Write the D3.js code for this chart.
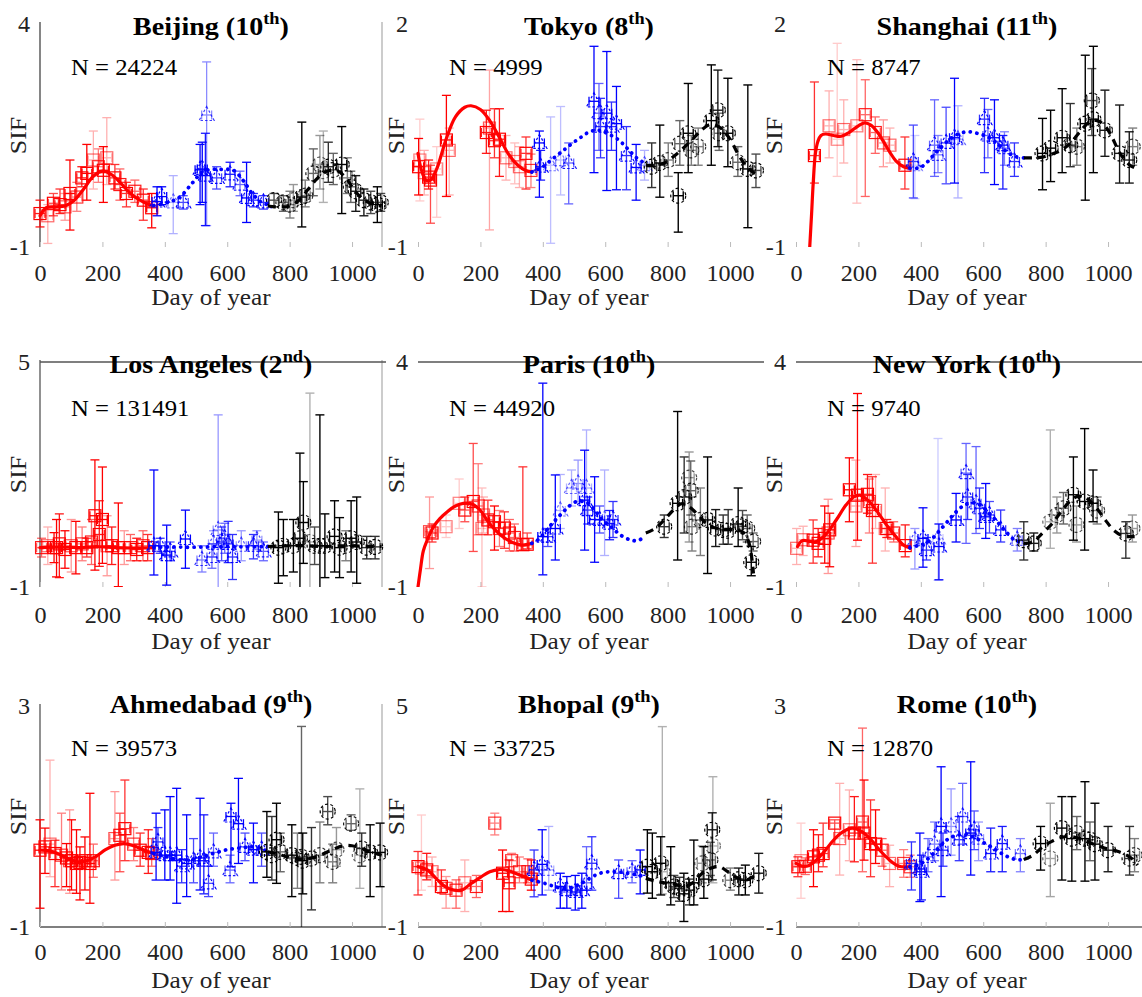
<!DOCTYPE html>
<html>
<head>
<meta charset="utf-8">
<script src="https://cdn.jsdelivr.net/npm/d3@7"></script>
<style>
  html, body { margin: 0; padding: 0; background: #fff; }
  svg { display: block; font-family: "Liberation Serif", "Times New Roman", serif; }
  svg text { font-family: "Liberation Serif", "Times New Roman", serif; }
</style>
</head>
<body>
<svg id="chart" width="1142" height="997"></svg>
<script>
// ---------- panel metadata ----------
const cityNames   = ["Beijing", "Tokyo", "Shanghai", "Los Angeles", "Paris", "New York", "Ahmedabad", "Bhopal", "Rome"];
const rankNumbers = ["10", "8", "11", "2", "10", "10", "9", "9", "10"];
const rankSuffixes = ["th", "th", "th", "nd", "th", "th", "th", "th", "th"];
const sampleSizes = [24224, 4999, 8747, 131491, 44920, 9740, 39573, 33725, 12870];
const sifUpper = [4, 2, 2, 5, 4, 4, 3, 5, 3];
const sifLower = -1;
const dayTicks = [0, 200, 400, 600, 800, 1000];
const dayRange = [0, 1096];
const binHalfWidth = 16; // half of the averaging window, in days

// ---------- binned SIF: [day, mean, lower, upper, share of observations] ----------
const beijingY1 = [[0,-0.25,-0.55,0.05,0.9],[25,-0.3,-0.92,-0.05,0.3],[43,-0.02,-0.3,0.2,0.7],[64,-0.05,-0.25,0.3,0.8],[80,-0.1,-0.4,0.2,0.4],[96,0.2,-0.62,0.95,1],[118,0.12,-0.2,0.45,0.5],[134,0.55,0.35,0.8,0.9],[150,0.65,0.05,1.3,1],[171,0.95,0.3,1.6,0.3],[187,0.8,0.45,1.2,0.5],[203,0.72,0.0,1.25,1],[214,1.0,0.4,1.9,0.3],[240,0.55,0.3,0.85,0.8],[256,0.4,0.05,0.75,0.6],[277,0.2,-0.1,0.45,0.8],[304,0.25,0.0,0.5,0.6],[331,0.05,-0.4,0.3,0.8],[358,-0.12,-0.57,0.2,1]];
const beijingY2 = [[375,0.02,-0.3,0.35,1],[390,0.13,-0.05,0.35,1],[427,0.0,-0.7,0.6,0.3],[459,0.0,-0.15,0.15,0.7],[513,0.73,-0.05,1.3,1],[520,0.75,0.0,1.35,1],[530,0.6,-0.52,1.55,0.9],[534,1.96,-0.52,3.15,0.45],[566,0.55,0.3,0.8,0.7],[609,0.63,0.35,0.9,0.9],[641,0.4,0.15,0.7,0.6],[662,0.1,-0.45,0.9,1],[684,0.05,-0.1,0.2,0.8],[716,0.0,-0.15,0.15,0.8]];
const beijingY3 = [[750,0.05,-0.1,0.2,0.7],[780,0.0,-0.2,0.15,0.6],[801,-0.05,-0.35,0.25,0.5],[812,0.05,-0.2,0.4,0.4],[839,0.12,-0.55,1.8,1],[850,0.15,-0.1,0.5,0.5],[876,0.65,0.15,1.2,0.6],[897,0.85,0.3,1.5,0.4],[908,0.7,0.0,1.6,0.3],[924,0.8,0.45,1.35,0.8],[940,0.73,0.4,1.1,0.6],[967,0.85,-0.25,1.7,1],[985,0.55,0.2,1.0,0.5],[996,0.35,0.0,0.7,0.6],[1012,0.25,-0.2,0.6,0.9],[1038,0.05,-0.3,0.3,0.9],[1060,0.0,-0.25,0.25,0.7],[1081,-0.05,-0.45,0.35,1],[1092,0.0,-0.2,0.2,0.7]];
const beijingFit1 = [[0,-0.3],[20,-0.12],[50,-0.1],[80,-0.08],[110,0.05],[140,0.3],[170,0.58],[200,0.7],[230,0.62],[260,0.42],[290,0.2],[320,0.05],[350,-0.05],[365,-0.07]];
const beijingFit2 = [[365,-0.07],[400,-0.02],[430,0.05],[450,0.13],[490,0.45],[520,0.68],[550,0.74],[580,0.74],[620,0.72],[650,0.5],[680,0.2],[710,0.0],[730,-0.05]];
const beijingFit3 = [[730,-0.08],[760,-0.1],[800,-0.08],[830,0.05],[860,0.3],[890,0.55],[920,0.7],[950,0.72],[980,0.55],[1010,0.25],[1040,0.05],[1070,-0.05],[1095,-0.08]];

const tokyoY1 = [[2,0.08,-0.3,0.46,1],[6,0.17,-0.38,0.72,0.2],[20,0.0,-0.3,0.3,0.3],[34,-0.06,-0.22,0.17,0.9],[40,-0.1,-0.68,0.1,0.7],[60,0.05,-0.6,0.35,0.2],[91,0.44,-0.32,1.04,1],[100,0.3,-0.3,0.6,0.3],[219,0.54,0.26,0.84,0.9],[229,0.6,-0.77,1.38,0.35],[245,0.43,0.2,0.86,0.8],[261,0.45,-0.05,0.86,0.9],[282,0.2,-0.1,0.5,0.3],[310,0.15,-0.15,0.4,0.25],[325,0.08,-0.2,0.35,0.3],[346,0.26,-0.22,0.48,0.8],[362,0.03,-0.2,0.25,0.5]];
const tokyoY2 = [[389,0.4,-0.33,0.56,1],[393,0.08,-0.1,0.3,0.9],[425,0.1,-0.95,0.75,0.25],[457,0.17,-0.3,0.89,0.25],[483,0.13,-0.42,0.4,0.6],[564,0.96,0.0,1.7,1],[580,0.8,0.3,1.2,0.6],[585,0.62,0.2,1.0,0.8],[605,0.8,-0.24,1.63,1],[620,0.62,0.3,0.95,0.8],[636,0.66,-0.23,1.16,1],[668,0.23,-0.23,0.62,0.8],[699,0.07,-0.37,0.38,1],[726,0.1,-0.1,0.3,0.3]];
const tokyoY3 = [[749,0.08,-0.2,0.4,0.8],[775,0.13,-0.33,0.64,1],[802,0.17,-0.05,0.4,0.5],[834,-0.31,-0.8,0.0,1],[839,0.39,0.1,0.7,0.6],[866,0.53,0.0,1.2,1],[876,0.3,0.1,0.5,0.5],[898,0.35,0.1,0.6,0.5],[940,0.7,0.1,1.45,1],[961,0.84,0.35,1.38,0.9],[965,0.53,0.3,0.8,0.6],[993,0.53,0.08,1.27,1],[1025,0.14,-0.05,0.35,0.6],[1057,0.05,-0.74,1.18,1],[1083,0.03,-0.2,0.25,0.7]];
const tokyoFit1 = [[0,0.26],[10,0.05],[25,-0.1],[40,-0.1],[60,0.05],[90,0.45],[120,0.75],[150,0.88],[170,0.9],[200,0.85],[230,0.7],[260,0.48],[290,0.25],[320,0.1],[345,0.03],[365,0.01]];
const tokyoFit2 = [[365,0.01],[400,0.08],[430,0.18],[460,0.28],[490,0.38],[520,0.47],[550,0.55],[580,0.57],[610,0.52],[640,0.45],[670,0.33],[700,0.2],[730,0.12]];
const tokyoFit3 = [[730,0.1],[760,0.1],[790,0.13],[820,0.22],[850,0.33],[880,0.45],[910,0.58],[940,0.65],[970,0.6],[1000,0.45],[1030,0.22],[1060,0.05],[1095,-0.05]];

const shanghaiY1 = [[59,0.23,-0.14,1.22,0.8],[106,0.63,0.2,1.1,0.3],[132,0.45,-0.05,1.74,0.2],[153,0.58,0.13,0.98,0.3],[195,0.63,-0.41,1.52,0.25],[222,0.78,-0.32,1.25,0.6],[254,0.54,0.26,0.75,0.6],[280,0.4,0.08,0.71,0.4],[301,0.37,0.13,0.6,0.3],[349,0.1,-0.22,0.48,0.8]];
const shanghaiY2 = [[376,0.15,-0.34,0.64,0.7],[381,0.1,-0.35,0.5,0.2],[444,0.37,-0.05,0.98,0.6],[455,0.24,0.0,0.5,0.5],[481,0.4,-0.15,0.88,0.7],[508,0.47,-0.14,1.27,1],[519,0.45,-0.34,0.9,0.3],[604,0.72,0.0,1.0,0.8],[615,0.5,0.2,0.85,0.6],[636,0.47,-0.16,0.98,1],[663,0.37,-0.22,0.5,0.9],[668,0.33,0.1,0.55,0.5],[700,0.15,-0.05,0.4,0.8]];
const shanghaiY3 = [[790,0.26,-0.23,0.73,1],[816,0.33,-0.12,0.84,1],[853,0.47,0.0,1.13,1],[879,0.37,0.08,0.93,0.8],[900,0.35,0.1,0.6,0.5],[927,0.66,-0.37,1.58,1],[948,0.97,0.5,1.4,0.7],[953,0.72,0.0,1.7,1],[990,0.57,0.22,1.11,0.9],[1037,0.26,-0.14,0.91,0.9],[1068,0.17,-0.14,0.55,0.9],[1079,0.35,0.1,0.6,0.5]];
const shanghaiFit1 = [[44,-1],[50,-0.55],[55,-0.15],[62,0.25],[70,0.42],[80,0.5],[95,0.52],[120,0.5],[145,0.49],[170,0.54],[200,0.63],[220,0.67],[240,0.64],[260,0.55],[280,0.42],[300,0.28],[320,0.16],[345,0.08],[365,0.06]];
const shanghaiFit2 = [[365,0.06],[390,0.06],[410,0.1],[435,0.21],[460,0.32],[490,0.44],[520,0.52],[550,0.55],[580,0.53],[610,0.49],[640,0.41],[670,0.3],[700,0.22],[730,0.2]];
const shanghaiFit3 = [[730,0.2],[760,0.2],[790,0.21],[820,0.25],[850,0.3],[880,0.4],[910,0.55],[940,0.68],[965,0.7],[990,0.63],[1010,0.5],[1040,0.25],[1070,0.1],[1095,0.05]];

const losAngelesY1 = [[5,0.05,-0.2,0.3,0.6],[25,0.1,-0.4,0.6,0.3],[45,0.05,-0.35,0.45,1],[53,0.05,-0.73,0.8,1],[62,0.15,-0.75,0.95,0.9],[80,0.0,-0.5,0.5,1],[100,0.1,-0.6,0.8,0.4],[115,0.05,-0.65,0.75,1],[135,0.15,-0.3,0.6,0.5],[150,0.05,-0.2,0.3,0.8],[165,0.2,-0.4,0.8,0.6],[176,0.9,-0.55,2.39,1],[190,0.4,-0.45,1.3,0.9],[200,0.8,-0.37,2.2,1],[215,0.1,-0.7,0.9,0.4],[230,0.1,-0.4,0.6,0.9],[251,0.05,-0.99,1.24,1],[270,0.05,-0.4,0.5,0.4],[290,0.05,-0.3,0.4,0.6],[310,0.0,-0.3,0.3,0.9],[330,0.1,-0.3,0.5,0.6],[345,0.05,-0.3,0.4,0.8]];
const losAngelesY2 = [[365,0.1,-0.68,2.12,1],[385,0.1,-0.1,0.3,0.8],[406,-0.15,-0.95,0.65,1],[417,-0.05,-0.3,0.2,0.7],[466,0.28,-0.5,1.05,1],[519,-0.28,-0.6,0.1,0.5],[551,-0.2,-0.5,0.15,0.6],[556,0.15,-0.2,0.5,0.4],[571,0.52,-1.2,3.59,0.4],[582,0.2,-0.3,0.6,0.7],[592,0.3,-0.1,0.7,0.6],[603,0.15,-0.35,0.75,0.8],[617,-0.2,-0.8,0.4,0.8],[645,0.1,-0.3,0.5,0.4],[684,0.1,-0.25,0.4,0.8],[695,0.25,0.0,0.5,0.4],[716,-0.05,-0.3,0.2,0.6]];
const losAngelesY3 = [[764,0.05,-0.9,1.0,1],[780,0.1,-0.7,0.8,1],[812,0.1,-0.6,0.8,1],[833,0.3,-1.2,2.57,1],[844,0.72,-0.37,1.81,1],[865,0.2,-1.2,4.17,0.3],[880,0.1,-0.4,0.6,0.7],[897,0.1,-1.2,3.59,1],[913,0.1,-0.75,0.95,1],[944,0.35,-0.6,1.3,1],[960,0.05,-0.75,0.85,1],[980,0.1,-0.3,0.5,0.5],[997,0.3,-0.6,1.3,1],[1015,0.2,-0.9,1.4,1],[1047,0.05,-0.25,0.35,0.8],[1074,0.07,-0.25,0.35,0.8]];
const losAngelesFit1 = [[0,0.05],[60,0.07],[120,0.05],[180,0.08],[240,0.05],[300,0.04],[365,0.05]];
const losAngelesFit2 = [[365,0.05],[420,0.07],[480,0.06],[540,0.07],[600,0.08],[660,0.07],[730,0.08]];
const losAngelesFit3 = [[730,0.08],[790,0.1],[850,0.1],[910,0.08],[970,0.1],[1030,0.09],[1095,0.08]];

const parisY1 = [[37,0.23,-0.59,1.0,0.4],[45,0.2,0.0,0.4,0.8],[90,0.34,0.1,0.6,0.2],[132,0.86,0.3,1.4,0.2],[150,0.71,0.45,1.0,0.7],[177,0.9,-0.21,2.19,0.7],[193,0.8,0.16,1.74,0.5],[205,0.3,-1.0,1.2,0.25],[210,0.6,0.2,1.0,0.3],[224,0.49,0.16,0.93,0.8],[245,0.45,-0.18,0.8,1],[261,0.3,-0.1,0.7,0.5],[277,0.31,-0.14,0.67,0.8],[293,0.2,-0.2,0.5,0.6],[309,0.1,-0.2,0.4,0.6],[336,-0.06,-0.18,1.67,0.8],[350,-0.05,-0.15,0.2,0.7]];
const parisY2 = [[400,0.12,-0.73,3.53,1],[416,0.12,-0.1,0.3,0.7],[440,0.3,-0.4,1.49,1],[456,0.7,0.3,1.5,0.3],[492,1.2,0.8,1.6,0.3],[513,1.3,0.9,1.82,0.4],[534,0.93,-0.18,2.04,1],[540,1.2,0.6,2.49,0.3],[544,0.71,0.4,1.0,0.8],[566,0.5,-0.45,1.45,1],[582,0.49,0.2,0.8,0.7],[598,0.5,-0.3,1.6,0.3],[614,0.41,0.05,0.7,0.9],[625,0.5,0.1,0.9,0.8]];
const parisY3 = [[789,0.34,0.1,0.6,0.8],[832,0.86,-0.4,2.9,1],[853,1.0,0.2,1.89,0.8],[869,1.43,0.0,2.0,0.4],[874,1.14,0.6,1.8,0.6],[878,0.34,-0.2,1.0,0.5],[905,0.49,-0.3,1.2,0.5],[928,0.49,-0.7,1.89,1],[954,0.3,-0.1,0.72,0.9],[978,0.27,-0.05,0.6,0.8],[994,0.25,-0.05,0.72,0.8],[1026,0.4,-0.1,1.2,1],[1040,0.35,0.05,0.7,0.7],[1055,0.3,0.0,0.6,0.6],[1068,-0.45,-0.75,-0.1,1],[1074,0.01,-0.2,0.2,0.6]];
const parisFit1 = [[0,-1],[8,-0.6],[17,-0.2],[30,0.05],[50,0.34],[70,0.52],[95,0.68],[120,0.8],[145,0.86],[175,0.84],[200,0.7],[225,0.45],[250,0.25],[275,0.1],[300,0.0],[330,-0.07],[365,-0.03]];
const parisFit2 = [[365,-0.03],[385,0.05],[410,0.25],[435,0.45],[460,0.63],[485,0.8],[510,0.9],[540,0.88],[565,0.72],[590,0.5],[620,0.33],[650,0.15],[680,0.05],[705,0.03],[730,0.15]];
const parisFit3 = [[730,0.2],[760,0.3],[790,0.5],[820,0.72],[845,0.85],[870,0.78],[900,0.58],[930,0.38],[960,0.3],[990,0.28],[1020,0.27],[1045,0.2],[1062,-0.05],[1075,-0.7]];

const newYorkY1 = [[2,-0.14,-0.5,0.3,0.3],[23,0.05,-0.3,0.35,0.3],[55,0.04,-0.47,0.49,0.8],[71,-0.03,-0.33,0.3,0.9],[92,0.08,-0.47,0.8,1],[103,0.2,-0.7,0.95,0.4],[108,0.27,-0.55,0.64,1],[171,1.16,0.45,1.87,1],[192,0.8,-0.1,1.82,0.35],[197,1.04,0.04,3.3,1],[229,1.06,0.64,1.5,0.9],[235,0.9,0.2,1.4,0.5],[245,0.7,-0.47,1.45,0.8],[255,0.7,0.3,1.5,0.3],[286,0.3,-0.2,1.2,0.3],[291,0.3,0.1,0.5,0.9],[313,0.2,0.0,0.45,0.6],[350,-0.08,-0.33,0.38,0.9]];
const newYorkY2 = [[381,0.04,-0.6,0.3,0.4],[407,0.08,-0.56,0.76,1],[418,-0.18,-0.4,0.1,0.8],[455,0.08,-0.85,2.3,0.2],[458,-0.1,-0.84,0.4,1],[513,0.49,0.0,1.08,1],[545,1.53,-0.03,2.19,0.6],[550,1.0,0.5,1.5,0.8],[577,0.86,0.19,2.12,0.6],[588,0.75,0.3,1.2,0.8],[608,0.56,0.08,1.3,1],[620,0.6,0.2,0.9,0.7],[656,0.27,0.0,0.71,0.8],[709,0.05,-0.2,0.3,0.5]];
const newYorkY3 = [[730,0.04,-0.4,0.45,0.8],[762,-0.03,-0.2,0.2,0.9],[815,0.45,-0.14,2.49,0.3],[836,0.6,0.2,1.0,0.4],[857,0.75,0.4,1.1,0.6],[889,1.05,0.04,1.89,1],[899,0.38,0.0,0.8,0.4],[925,0.9,-0.18,2.52,1],[952,0.86,0.45,1.6,1],[965,0.7,0.4,1.0,0.5],[1057,0.19,-0.36,0.45,0.8],[1078,0.3,0.0,0.6,0.4]];
const newYorkFit1 = [[5,-0.1],[20,0.03],[40,0.02],[60,0.0],[80,0.07],[100,0.2],[130,0.5],[160,0.82],[185,1.0],[205,1.04],[230,0.93],[260,0.68],[290,0.38],[320,0.12],[345,-0.07],[365,-0.13]];
const newYorkFit2 = [[365,-0.13],[390,-0.08],[415,-0.03],[440,0.1],[460,0.25],[485,0.45],[510,0.65],[540,0.82],[570,0.87],[595,0.8],[620,0.63],[645,0.45],[670,0.25],[700,0.05],[730,-0.03]];
const newYorkFit3 = [[730,-0.03],[760,0.0],[790,0.2],[820,0.4],[850,0.68],[880,0.92],[905,1.02],[930,0.98],[960,0.78],[990,0.5],[1020,0.25],[1050,0.13],[1080,0.12],[1095,0.12]];

const ahmedabadY1 = [[0,0.39,-0.66,0.94,1],[16,0.45,-0.03,0.79,1],[32,0.5,-0.09,2.02,0.3],[48,0.33,-0.27,0.57,0.8],[69,0.3,-0.33,1.06,0.5],[85,0.25,-0.27,0.51,1],[95,0.2,-0.39,1.12,0.4],[101,0.2,-0.33,0.94,1],[117,0.15,-0.39,0.76,1],[128,0.17,-0.51,0.45,1],[144,0.2,-0.33,0.63,1],[160,0.15,-0.57,1.42,1],[171,0.2,-0.1,0.5,0.6],[240,0.6,-0.15,1.45,0.4],[256,0.66,0.0,1.06,0.7],[272,0.78,0.2,1.66,0.8],[300,0.5,0.2,0.8,0.5],[321,0.39,0.1,0.7,0.8],[347,0.35,-0.03,0.76,0.9],[358,0.33,0.1,0.6,0.6]];
const ahmedabadY2 = [[372,0.35,-0.15,1.06,1],[378,0.54,0.3,0.8,0.8],[400,0.3,-0.15,1.12,1],[417,0.3,-0.15,1.36,1],[438,0.3,-0.57,1.51,1],[454,0.1,-0.2,0.4,0.8],[470,0.15,-0.45,1.03,1],[492,0.2,-0.2,0.6,0.7],[513,0.25,-0.33,1.33,1],[525,0.2,-0.4,1.03,0.9],[540,-0.21,-0.45,0.1,0.7],[556,0.35,0.1,0.7,0.6],[609,0.03,-0.2,0.3,0.6],[612,1.0,0.09,1.24,1],[636,0.87,0.15,1.69,1],[657,0.45,0.2,0.7,0.7],[684,0.4,-0.2,0.88,1],[710,0.4,0.1,0.7,0.7]];
const ahmedabadY3 = [[727,0.36,-0.1,1.09,1],[743,0.3,-0.15,1.0,0.8],[758,0.58,-0.21,1.24,1],[770,0.36,0.0,0.7,0.6],[807,0.3,-0.45,0.85,1],[825,0.25,-0.3,0.7,0.5],[838,0.27,-1.2,2.63,0.6],[842,0.2,-0.4,0.7,1],[870,0.24,-0.69,0.8,0.8],[897,0.3,-0.2,0.9,0.5],[922,1.09,0.85,1.36,0.7],[938,0.18,-0.2,0.5,0.5],[950,0.4,0.1,0.8,0.4],[997,0.87,0.75,1.03,0.6],[1025,0.3,-0.3,1.5,0.3],[1031,0.42,0.1,0.7,0.8],[1058,0.35,-0.45,0.85,1],[1090,0.35,-0.27,0.88,1]];
const ahmedabadFit1 = [[0,0.39],[30,0.38],[60,0.32],[90,0.24],[120,0.18],[150,0.2],[180,0.28],[210,0.4],[240,0.48],[270,0.51],[300,0.47],[330,0.4],[365,0.33]];
const ahmedabadFit2 = [[365,0.33],[400,0.28],[440,0.22],[480,0.22],[520,0.27],[560,0.34],[600,0.4],[640,0.43],[680,0.45],[710,0.42],[730,0.36]];
const ahmedabadFit3 = [[730,0.36],[760,0.33],[790,0.27],[830,0.23],[860,0.24],[890,0.28],[930,0.38],[970,0.47],[1000,0.47],[1040,0.4],[1070,0.34],[1095,0.3]];

const bhopalY1 = [[0,0.64,-0.13,1.05,0.8],[11,0.6,0.0,2.04,0.2],[28,0.55,0.28,1.0,0.9],[45,0.5,0.1,0.9,0.3],[75,0.1,-0.08,0.55,0.8],[90,0.05,-0.49,0.37,0.4],[122,0.0,-0.49,0.28,0.6],[150,0.2,-0.58,0.82,0.3],[187,0.1,-0.2,0.4,0.6],[246,1.82,1.5,2.09,0.5],[271,0.46,-0.58,1.09,1],[292,0.2,-0.58,0.82,1],[300,0.8,0.46,1.0,0.5],[325,0.5,0.2,0.9,0.5],[352,0.5,0.2,0.85,0.6],[363,0.3,0.0,0.82,1]];
const bhopalY2 = [[372,0.55,-0.18,1.09,0.8],[398,0.7,-0.13,1.64,1],[419,0.55,0.0,1.73,0.3],[456,0.1,-0.49,0.46,1],[477,0.0,-0.49,0.37,1],[504,-0.05,-0.54,0.4,1],[525,0.0,-0.49,0.46,1],[540,0.2,0.0,1.18,0.6],[557,0.73,0.0,1.45,0.8],[643,0.46,-0.22,0.82,0.7],[686,0.5,0.2,0.8,0.6],[712,0.55,-0.1,1.09,1]];
const bhopalY3 = [[735,0.64,-0.08,1.64,1],[751,0.5,-0.22,1.55,1],[778,0.73,-0.13,1.45,1],[783,0.5,-0.1,4.44,0.3],[810,0.2,-0.4,1.18,1],[820,0.1,-0.2,0.4,0.7],[838,0.05,-0.3,0.35,0.8],[852,-0.1,-0.85,0.46,1],[870,0.0,-0.4,0.3,0.8],[884,0.2,-0.4,1.36,1],[911,0.73,0.2,1.2,0.4],[916,0.3,-0.22,1.18,1],[937,0.82,0.4,1.3,0.6],[943,1.64,0.28,2.1,0.9],[945,1.2,0.2,3.08,0.3],[1001,0.27,0.0,0.6,0.5],[1028,0.3,-0.13,0.6,0.9],[1049,0.27,-0.13,0.68,1],[1092,0.46,-0.08,1.0,0.9]];
const bhopalFit1 = [[0,0.64],[30,0.55],[60,0.3],[90,0.08],[115,0.0],[140,0.0],[170,0.18],[200,0.35],[230,0.5],[260,0.56],[290,0.53],[320,0.43],[345,0.35],[365,0.27]];
const bhopalFit2 = [[365,0.27],[400,0.2],[430,0.12],[460,0.05],[490,0.07],[520,0.17],[550,0.32],[580,0.45],[610,0.5],[640,0.5],[670,0.46],[700,0.42],[730,0.37]];
const bhopalFit3 = [[730,0.32],[760,0.25],[790,0.2],[820,0.17],[850,0.1],[880,0.2],[910,0.45],[940,0.6],[965,0.64],[990,0.52],[1020,0.35],[1050,0.27],[1080,0.4],[1095,0.46]];

const romeY1 = [[6,0.09,-0.09,0.27,0.8],[16,0.2,-0.48,0.88,0.2],[30,0.1,-0.05,0.25,0.6],[56,0.27,-0.27,0.76,1],[72,0.3,0.0,0.67,0.9],[87,0.33,0.09,0.88,0.8],[124,0.88,0.5,0.94,0.7],[140,0.6,-0.06,1.6,0.3],[171,0.76,0.2,1.48,0.3],[187,0.7,0.18,1.36,0.9],[213,0.9,0.0,2.6,0.6],[218,0.7,0.21,1.66,1],[239,0.51,-0.09,1.3,0.8],[255,0.5,0.15,1.12,1],[276,0.39,0.1,0.6,0.6],[300,0.15,-0.27,0.48,0.3],[345,0.15,-0.1,0.4,0.5],[366,0.09,-0.1,0.3,0.5]];
const romeY2 = [[370,0.15,-0.33,0.54,0.8],[397,0.05,-0.54,0.7,1],[402,0.0,-0.51,0.3,0.9],[423,0.27,0.0,0.6,0.6],[444,0.5,0.2,0.9,0.5],[465,0.82,-0.45,1.9,1],[471,0.39,0.1,0.7,0.8],[497,0.82,0.3,1.5,0.4],[523,0.58,0.2,1.0,0.8],[534,1.0,0.5,1.6,0.6],[560,0.7,-0.06,1.99,1],[571,0.76,0.4,1.1,0.7],[585,0.6,0.2,0.9,0.4],[624,0.33,0.0,0.79,0.9],[661,0.51,0.0,0.82,0.9],[719,0.33,0.0,0.6,0.5]];
const romeY3 = [[784,0.51,0.03,0.82,1],[815,0.24,-0.45,1.24,0.35],[852,0.79,-0.15,1.36,1],[884,0.6,-0.17,1.36,1],[900,0.7,0.4,1.0,0.6],[926,0.6,-0.17,1.63,1],[942,0.58,0.2,0.9,0.6],[958,0.5,-0.15,1.24,1],[1000,0.39,0.0,0.82,0.9],[1069,0.24,-0.06,0.82,0.8],[1085,0.3,0.0,0.6,0.5]];
const romeFit1 = [[0,0.15],[20,0.1],[40,0.11],[65,0.21],[90,0.36],[120,0.57],[150,0.72],[180,0.79],[210,0.73],[240,0.58],[270,0.38],[300,0.21],[330,0.1],[365,0.09]];
const romeFit2 = [[365,0.09],[390,0.12],[415,0.2],[440,0.33],[465,0.48],[495,0.62],[525,0.67],[555,0.66],[585,0.58],[615,0.48],[645,0.38],[675,0.28],[705,0.22],[730,0.22]];
const romeFit3 = [[730,0.22],[760,0.3],[790,0.45],[820,0.55],[850,0.62],[880,0.64],[910,0.6],[940,0.53],[970,0.46],[1000,0.41],[1030,0.37],[1060,0.3],[1080,0.22],[1095,0.12]];

const cityPoints = [
  [beijingY1, beijingY2, beijingY3], [tokyoY1, tokyoY2, tokyoY3], [shanghaiY1, shanghaiY2, shanghaiY3],
  [losAngelesY1, losAngelesY2, losAngelesY3], [parisY1, parisY2, parisY3], [newYorkY1, newYorkY2, newYorkY3],
  [ahmedabadY1, ahmedabadY2, ahmedabadY3], [bhopalY1, bhopalY2, bhopalY3], [romeY1, romeY2, romeY3]
];
const cityFits = [
  [beijingFit1, beijingFit2, beijingFit3], [tokyoFit1, tokyoFit2, tokyoFit3], [shanghaiFit1, shanghaiFit2, shanghaiFit3],
  [losAngelesFit1, losAngelesFit2, losAngelesFit3], [parisFit1, parisFit2, parisFit3], [newYorkFit1, newYorkFit2, newYorkFit3],
  [ahmedabadFit1, ahmedabadFit2, ahmedabadFit3], [bhopalFit1, bhopalFit2, bhopalFit3], [romeFit1, romeFit2, romeFit3]
];

// ---------- layout ----------
const serif = "'Liberation Serif', 'Times New Roman', serif";
const colX = [40, 418, 796];
const panelWidth = 342;
const rowTop = [24, 362, 706];
const rowBottom = [247, 587, 927];
const titleBase = [35, 373, 713];
const countBase = [75, 416, 756];
const tickBase = [281, 623, 960];
const xLabelBase = [305, 649, 988];

// axis lines that are visible around each panel
const frames = [
  { left: "#444", right: "#aaa" }, {}, {},
  { top: "#555", left: "#555", right: "#aaa" }, { top: "#555" }, { top: "#555" },
  { left: "#555", bottom: "#555", right: "#aaa" }, { bottom: "#666" }, { bottom: "#666" }
];

const yearStyles = [
  { color: "#ff0000", marker: "square",   markerDash: null,    fitDash: null,      fitCap: "round", fitWidth: 3.2 },
  { color: "#0000ff", marker: "triangle", markerDash: "2.5,2", fitDash: "0.1,6.6", fitCap: "round", fitWidth: 3.8 },
  { color: "#000000", marker: "circle",   markerDash: "3,2.4", fitDash: "8,6",     fitCap: "butt",  fitWidth: 3.2 }
];

const svg = d3.select("#chart");
const defs = svg.append("defs");

function drawMarker(g, kind, cx, cy, color, dash, opacity) {
  let m;
  if (kind === "square") {
    m = g.append("rect").attr("x", cx - 6).attr("y", cy - 6).attr("width", 12).attr("height", 12);
  } else if (kind === "triangle") {
    m = g.append("path").attr("d", `M${cx},${cy - 8.5}L${cx + 7.5},${cy + 5.5}L${cx - 7.5},${cy + 5.5}Z`);
  } else {
    m = g.append("circle").attr("cx", cx).attr("cy", cy).attr("r", 7.5);
  }
  m.attr("fill", "none").attr("stroke", color).attr("stroke-width", 1.2).attr("opacity", opacity);
  if (dash) m.attr("stroke-dasharray", dash);
}

cityNames.forEach((name, i) => {
  const r = Math.floor(i / 3), c = i % 3;
  const x0 = colX[c], top = rowTop[r], bottom = rowBottom[r];
  const x = d3.scaleLinear().domain(dayRange).range([x0, x0 + panelWidth]);
  const y = d3.scaleLinear().domain([sifLower, sifUpper[i]]).range([bottom, top]);
  const panel = svg.append("g").attr("class", "panel");

  // frame lines
  const f = frames[i];
  if (f.left) panel.append("line").attr("x1", x0).attr("x2", x0).attr("y1", top - 2).attr("y2", bottom).attr("stroke", f.left).attr("stroke-width", 1.3);
  if (f.right) panel.append("line").attr("x1", x0 + panelWidth).attr("x2", x0 + panelWidth).attr("y1", top - 2).attr("y2", bottom).attr("stroke", f.right).attr("stroke-width", 1.2);
  if (f.top) panel.append("line").attr("x1", x0).attr("x2", Math.min(x0 + panelWidth + 4, 1142)).attr("y1", top).attr("y2", top).attr("stroke", f.top).attr("stroke-width", 1.3);
  if (f.bottom) panel.append("line").attr("x1", x0).attr("x2", Math.min(x0 + panelWidth + 4, 1142)).attr("y1", bottom).attr("y2", bottom).attr("stroke", f.bottom).attr("stroke-width", 1.3);

  // faint tick marks along the bottom
  const tickMarks = panel.append("g").attr("transform", `translate(0,${bottom})`)
    .call(d3.axisBottom(x).tickValues(dayTicks).tickSizeInner(-5).tickSizeOuter(0).tickFormat(""));
  tickMarks.select(".domain").remove();
  tickMarks.selectAll("line").attr("stroke", "#bbb").attr("stroke-width", 1);

  // x tick labels
  const xAxis = panel.append("g").attr("transform", `translate(0,${tickBase[r]})`)
    .attr("font-family", serif)
    .call(d3.axisBottom(x).tickValues(dayTicks).tickSize(0).tickPadding(0).tickFormat(d => String(d)));
  xAxis.select(".domain").remove();
  xAxis.selectAll("text").attr("y", 0).attr("dy", 0)
    .style("font-family", serif).attr("font-size", 23).attr("fill", "#222")
    .attr("transform", "scale(1.05,1)");

  // y tick labels (limits only)
  const yAxis = panel.append("g").attr("transform", `translate(${x0 - 10},0)`)
    .attr("font-family", serif)
    .call(d3.axisLeft(y).tickValues([sifLower, sifUpper[i]]).tickSize(0).tickPadding(0).tickFormat(d => String(d)));
  yAxis.select(".domain").remove();
  yAxis.selectAll("text").attr("x", 0).attr("dy", "0.33em")
    .style("font-family", serif).attr("font-size", 23).attr("fill", "#222")
    .attr("text-anchor", "end").attr("transform", "scale(1.05,1)");

  // data area clipped vertically to the axis limits
  const clipId = `clip-${i}`;
  defs.append("clipPath").attr("id", clipId).append("rect")
    .attr("x", x0 - 10).attr("y", top).attr("width", panelWidth + 20).attr("height", bottom - top);
  const plot = panel.append("g").attr("clip-path", `url(#${clipId})`);

  const fitLine = d3.line().x(d => x(d[0])).y(d => y(d[1])).curve(d3.curveCatmullRom.alpha(0.5));

  cityPoints[i].forEach((points, k) => {
    const st = yearStyles[k];
    const g = plot.append("g");
    points.forEach(([day, mean, lower, upper, share]) => {
      const cx = x(day), cy = y(mean);
      const yl = y(lower), yu = y(upper);
      const xl = x(day - binHalfWidth), xr = x(day + binHalfWidth);
      const bar = g.append("g").attr("stroke", st.color).attr("stroke-width", k === 2 ? 1.4 : 1.3).attr("opacity", share);
      // vertical spread with caps
      bar.append("line").attr("x1", cx).attr("x2", cx).attr("y1", yl).attr("y2", yu);
      bar.append("line").attr("x1", cx - 4.5).attr("x2", cx + 4.5).attr("y1", yl).attr("y2", yl);
      bar.append("line").attr("x1", cx - 4.5).attr("x2", cx + 4.5).attr("y1", yu).attr("y2", yu);
      // averaging window with caps
      bar.append("line").attr("x1", xl).attr("x2", xr).attr("y1", cy).attr("y2", cy);
      bar.append("line").attr("x1", xl).attr("x2", xl).attr("y1", cy - 4.5).attr("y2", cy + 4.5);
      bar.append("line").attr("x1", xr).attr("x2", xr).attr("y1", cy - 4.5).attr("y2", cy + 4.5);
      // markers stay a little more visible than their spread bars
      drawMarker(g, st.marker, cx, cy, st.color, st.markerDash, Math.min(1, share + 0.3));
    });
    const path = plot.append("path").datum(cityFits[i][k]).attr("d", fitLine)
      .attr("fill", "none").attr("stroke", st.color).attr("stroke-width", st.fitWidth)
      .attr("stroke-linecap", st.fitCap).attr("stroke-linejoin", "round");
    if (st.fitDash) path.attr("stroke-dasharray", st.fitDash);
  });

  // title with superscript rank
  const title = panel.append("text")
    .attr("transform", `translate(${x0 + 171},${titleBase[r]}) scale(1.08,1)`)
    .attr("text-anchor", "middle").style("font-family", serif)
    .attr("font-weight", "bold").attr("font-size", 26).attr("fill", "#000");
  title.append("tspan").text(`${name} (${rankNumbers[i]}`);
  title.append("tspan").attr("font-size", 17).attr("dy", -11).text(rankSuffixes[i]);
  title.append("tspan").attr("dy", 11).text(")");

  // sample count
  panel.append("text")
    .attr("transform", `translate(${x0 + 31},${countBase[r]}) scale(1.1,1)`)
    .style("font-family", serif).attr("font-size", 22.5).attr("fill", "#000")
    .text(`N = ${sampleSizes[i]}`);

  // axis titles
  panel.append("text")
    .attr("transform", `translate(${x0 + 171},${xLabelBase[r]}) scale(1.1,1)`)
    .attr("text-anchor", "middle").style("font-family", serif).attr("font-size", 23).attr("fill", "#222")
    .text("Day of year");
  panel.append("text")
    .attr("transform", `translate(${x0 - 14},${(top + bottom) / 2}) rotate(-90) scale(1.08,1)`)
    .attr("text-anchor", "middle").style("font-family", serif).attr("font-size", 24).attr("fill", "#222")
    .text("SIF");
});
</script>
</body>
</html>
